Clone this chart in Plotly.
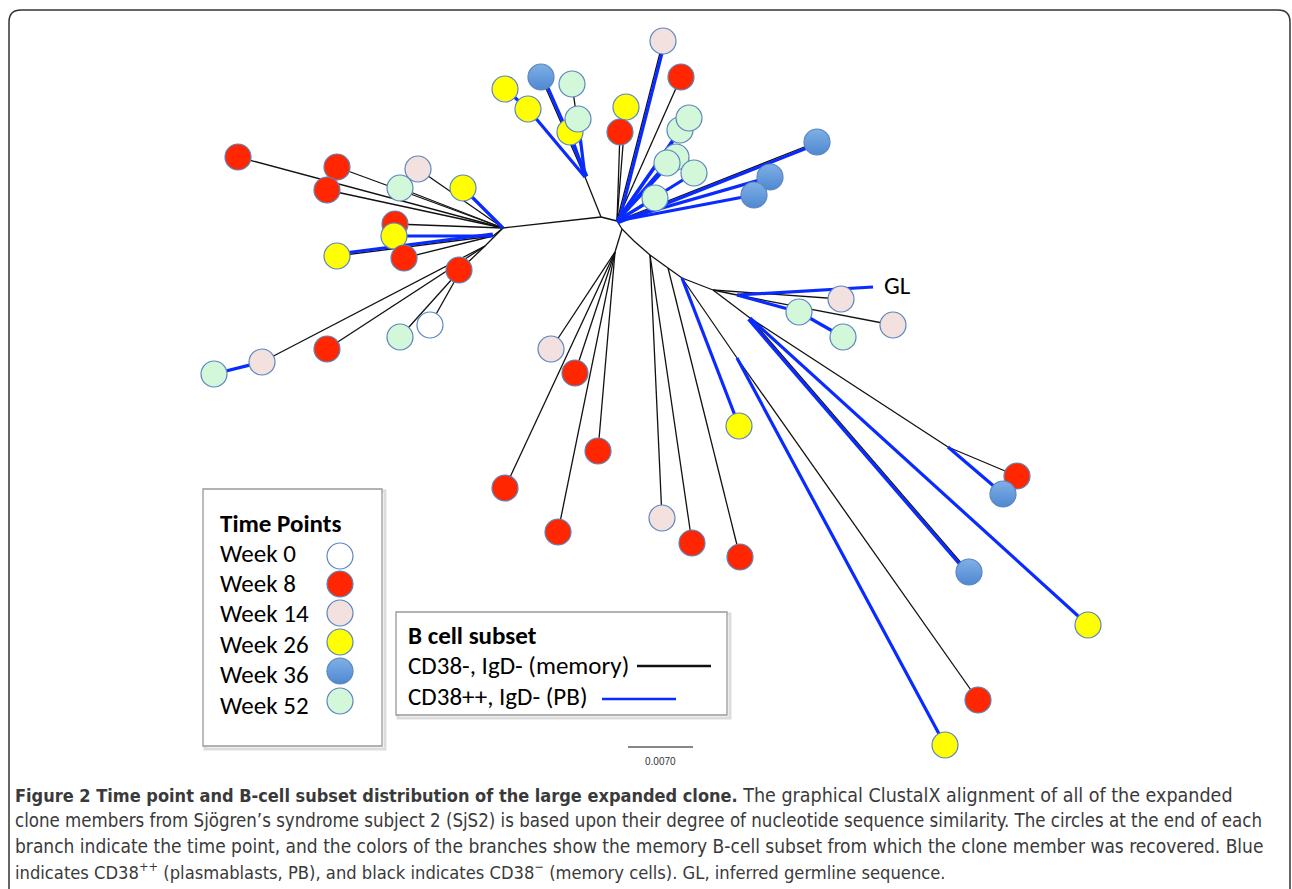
import math
import plotly.graph_objects as go

# ---------------- DATA ----------------
# Radial (unrooted) ClustalX tree: node layout coordinates (layout units)
node_name = ["HL", "HL2", "HL3", "HL4", "C1", "HU", "C2", "C3", "D1", "N0", "N1", "N2",
             "N3", "N3b", "N4", "N5", "N7", "N8", "GL"]
node_x = [503, 493, 485, 462, 601, 585, 617, 622, 615, 634, 650, 668,
          682, 737, 713, 737, 750, 948, 873]
node_y = [228, 236, 246, 268, 217, 177, 221, 229, 252, 241, 255, 268,
          278, 358, 290, 295, 318, 447, 287]

# Clone members (leaves): id, position, time point (week)
leaf_id = ["L%d" % i for i in range(1, 55)]
leaf_x = [238, 337, 327, 418, 400, 463, 395, 394, 337, 404, 459, 430, 400, 327, 262, 214,
          505, 528, 541, 572, 570, 578,
          663, 681, 626, 620, 680, 689, 676, 667, 694, 655, 817, 770, 754,
          551, 575, 598, 505, 558, 662, 692, 740, 739, 978, 945, 1017, 1003, 969, 1088,
          841, 893, 799, 843]
leaf_y = [157, 167, 190, 169, 188, 188, 224, 236, 256, 258, 270, 325, 337, 349, 362, 374,
          89, 109, 77, 84, 132, 119,
          41, 77, 107, 132, 130, 118, 157, 163, 173, 198, 142, 177, 195,
          349, 373, 451, 488, 532, 518, 543, 557, 426, 700, 745, 476, 494, 572, 625,
          299, 325, 312, 337]
leaf_week = [8, 8, 8, 14, 52, 26, 8, 26, 26, 8, 8, 0, 52, 8, 14, 52,
             26, 26, 36, 52, 26, 52,
             14, 8, 26, 8, 52, 52, 52, 52, 52, 52, 36, 36, 36,
             14, 8, 8, 8, 8, 14, 8, 8, 26, 8, 26, 8, 36, 36, 26,
             14, 14, 52, 52]

# Branches: parent, child, B-cell subset (M = CD38- memory, P = CD38++ PB, MP = both)
edge_parent = ["C1", "HL", "HL", "HL", "HL", "HL", "HL", "HL", "HL", "HL2", "HL2", "HL2",
               "HL", "HL3", "HL4", "HL4", "HL4", "HL3", "HL3", "L15",
               "C1", "HU", "L18", "HU", "HU", "HU", "HU",
               "C1", "C2", "C2", "C2", "C2", "C2", "C2", "C2", "C2", "C2", "C2", "C2", "C2", "C2",
               "C2", "C3", "D1", "D1", "D1", "D1", "D1",
               "C3", "N0", "N1", "N1", "N1", "N2", "N2", "N3", "N3", "N3b", "N3b", "N3", "N4",
               "N5", "N4", "N5", "N5", "L53", "N4", "N7", "N8", "N8", "N7", "N7"]
edge_child = ["HL", "L1", "L2", "L3", "L4", "L5", "L6", "L7", "HL2", "L8", "L9", "L10",
              "HL3", "HL4", "L11", "L12", "L13", "L14", "L15", "L16",
              "HU", "L18", "L17", "L19", "L20", "L22", "L21",
              "C2", "L23", "L24", "L25", "L26", "L27", "L28", "L29", "L30", "L31", "L32", "L33", "L34", "L35",
              "C3", "D1", "L36", "L37", "L38", "L39", "L40",
              "N0", "N1", "L41", "L42", "N2", "L43", "N3", "L44", "N3b", "L45", "L46", "N4", "N5",
              "GL", "L51", "L52", "L53", "L54", "N7", "N8", "L47", "L48", "L49", "L50"]
edge_subset = ["M", "M", "M", "M", "M", "M", "P", "M", "M", "P", "MP", "M",
               "M", "M", "M", "M", "M", "M", "M", "P",
               "M", "P", "P", "MP", "M", "P", "P",
               "M", "MP", "M", "M", "M", "P", "P", "P", "P", "P", "P", "MP", "P", "P",
               "M", "M", "M", "M", "M", "M", "M",
               "M", "M", "M", "M", "M", "M", "M", "P", "M", "M", "P", "M", "M",
               "P", "M", "M", "P", "P", "M", "M", "M", "P", "MP", "P"]

week_labels = ["Week 0", "Week 8", "Week 14", "Week 26", "Week 36", "Week 52"]
week_values = [0, 8, 14, 26, 36, 52]
subset_labels = ["CD38-, IgD- (memory)", "CD38++, IgD- (PB)"]
scale_label = "0.0070"

# ---------------- STYLE ----------------
W, H = 1292, 889
week_color = {0: "#ffffff", 8: "#ff2600", 14: "#f2e1de", 26: "#ffff00", 36: "#7fb0e6", 52: "#d3f7d9"}
week_grad = {36: "#4f88d2"}
BLUE = "#0a2bff"
BLACK = "#111111"
RIM = "#5b86bf"
LEG_FONT = "Carlito, Lato, 'Open Sans', sans-serif"
LEG_SIZE = 25
CAP_FONT = "'Liberation Sans Narrow', 'DejaVu Sans Condensed', 'Roboto Condensed', 'Noto Sans', sans-serif"

pos = {}
for n, x, y in zip(node_name, node_x, node_y):
    pos[n] = (x, y)
for n, x, y in zip(leaf_id, leaf_x, leaf_y):
    pos[n] = (x, y)

fig = go.Figure()

bx, by, kx, ky = [], [], [], []
for p, c, s in zip(edge_parent, edge_child, edge_subset):
    x0, y0 = pos[p]
    x1, y1 = pos[c]
    if s in ("M", "MP"):
        kx += [x0, x1, None]
        ky += [y0, y1, None]
    if s in ("P", "MP"):
        off = 2.0 if s == "MP" else 0.0
        dx, dy = x1 - x0, y1 - y0
        L = math.hypot(dx, dy) or 1
        nx, ny = -dy / L * off, dx / L * off
        bx += [x0 + nx, x1 + nx, None]
        by += [y0 + ny, y1 + ny, None]

fig.add_trace(go.Scatter(x=kx, y=ky, mode="lines", line=dict(color=BLACK, width=1.3),
                         hoverinfo="skip", showlegend=False))
fig.add_trace(go.Scatter(x=bx, y=by, mode="lines", line=dict(color=BLUE, width=3.2),
                         hoverinfo="skip", showlegend=False))

fig.add_trace(go.Scatter(
    x=leaf_x, y=leaf_y, mode="markers",
    marker=dict(size=26, color=[week_color[w] for w in leaf_week],
                gradient=dict(type=["vertical" if w in week_grad else "none" for w in leaf_week],
                              color=[week_grad.get(w, week_color[w]) for w in leaf_week]),
                line=dict(color=RIM, width=1.2)),
    hoverinfo="skip", showlegend=False))

# ---------------- LEGENDS / DECORATION ----------------
shapes = []
annotations = []

# outer rounded frame
shapes.append(dict(type="path", xref="x", yref="y",
                   path="M 9,900 L 9,22 Q 9,10 21,10 L 1278,10 Q 1290,10 1290,22 L 1290,900",
                   line=dict(color="#333333", width=1.5)))

# Time-point legend box
shapes.append(dict(type="rect", xref="x", yref="y", x0=205, y0=491, x1=385, y1=749,
                   line=dict(color="#dddddd", width=3), layer="below"))
shapes.append(dict(type="rect", xref="x", yref="y", x0=203, y0=489, x1=382, y1=746,
                   line=dict(color="#999999", width=1.3), fillcolor="white", layer="below"))
annotations.append(dict(x=218, y=523, text="<b>Time Points</b>", xanchor="left", yanchor="middle",
                        showarrow=False, font=dict(family=LEG_FONT, size=LEG_SIZE, color="black")))
leg_y = [553, 583, 613, 644, 674, 705]
circ_y = [556, 584, 613, 642, 671, 701]
for lab, yy in zip(week_labels, leg_y):
    annotations.append(dict(x=218, y=yy, text=lab, xanchor="left", yanchor="middle",
                            showarrow=False, font=dict(family=LEG_FONT, size=LEG_SIZE, color="black")))
fig.add_trace(go.Scatter(
    x=[340] * 6, y=circ_y, mode="markers",
    marker=dict(size=26, color=[week_color[w] for w in week_values],
                gradient=dict(type=["vertical" if w in week_grad else "none" for w in week_values],
                              color=[week_grad.get(w, week_color[w]) for w in week_values]),
                line=dict(color=RIM, width=1.2)),
    hoverinfo="skip", showlegend=False))

# B cell subset legend box
shapes.append(dict(type="rect", xref="x", yref="y", x0=398, y0=614, x1=730, y1=718,
                   line=dict(color="#dddddd", width=3), layer="below"))
shapes.append(dict(type="rect", xref="x", yref="y", x0=396, y0=612, x1=727, y1=715,
                   line=dict(color="#999999", width=1.3), fillcolor="white", layer="below"))
annotations.append(dict(x=406, y=635, text="<b>B cell subset</b>", xanchor="left", yanchor="middle",
                        showarrow=False, font=dict(family=LEG_FONT, size=LEG_SIZE, color="black")))
annotations.append(dict(x=406, y=665, text=subset_labels[0], xanchor="left", yanchor="middle",
                        showarrow=False, font=dict(family=LEG_FONT, size=LEG_SIZE, color="black")))
annotations.append(dict(x=406, y=696, text=subset_labels[1], xanchor="left", yanchor="middle",
                        showarrow=False, font=dict(family=LEG_FONT, size=LEG_SIZE, color="black")))
shapes.append(dict(type="line", xref="x", yref="y", x0=637, y0=666, x1=711, y1=666,
                   line=dict(color=BLACK, width=2.5)))
shapes.append(dict(type="line", xref="x", yref="y", x0=602, y0=699, x1=676, y1=699,
                   line=dict(color=BLUE, width=2.5)))

# scale bar
shapes.append(dict(type="line", xref="x", yref="y", x0=628, y0=747, x1=693, y1=747,
                   line=dict(color=BLACK, width=1.2)))
annotations.append(dict(x=660, y=761, text=scale_label, xanchor="center", yanchor="middle",
                        showarrow=False, font=dict(family="Liberation Sans, sans-serif", size=10, color="#333333")))

# GL label
annotations.append(dict(x=882, y=285, text="GL", xanchor="left", yanchor="middle", showarrow=False,
                        font=dict(family=LEG_FONT, size=LEG_SIZE, color="black")))

# caption
cap_lines = [
    "<b><span style='font-size:18px'>Figure 2 Time point and B-cell subset distribution of the large "
    "expanded clone.</span></b> The graphical ClustalX alignment of all of the expanded",
    "clone members from Sjögren’s syndrome subject 2 (SjS2) is based upon their degree of nucleotide "
    "sequence similarity. The circles at the end of each",
    "branch indicate the time point, and the colors of the branches show the memory B-cell subset "
    "from which the clone member was recovered. Blue",
    "indicates CD38<sup>++</sup> (plasmablasts, PB), and black indicates CD38<sup>−</sup> "
    "(memory cells). GL, inferred germline sequence.",
]
cap_y = [795, 820, 846, 871]
cap_size = [19.5, 18.55, 19.0, 18.2]
for t, yy, sz in zip(cap_lines, cap_y, cap_size):
    annotations.append(dict(x=13, y=yy, text=t, xanchor="left", yanchor="middle", showarrow=False,
                            font=dict(family=CAP_FONT, size=sz, color="#3a3a3a")))

fig.update_layout(
    width=W, height=H, margin=dict(l=0, r=0, t=0, b=0),
    paper_bgcolor="white", plot_bgcolor="white",
    xaxis=dict(range=[0, W], visible=False, fixedrange=True),
    yaxis=dict(range=[H, 0], visible=False, fixedrange=True),
    shapes=shapes, annotations=annotations, showlegend=False,
)

fig.write_html("out.html", config={"displayModeBar": False},
               post_script="document.body.style.margin='0';")
